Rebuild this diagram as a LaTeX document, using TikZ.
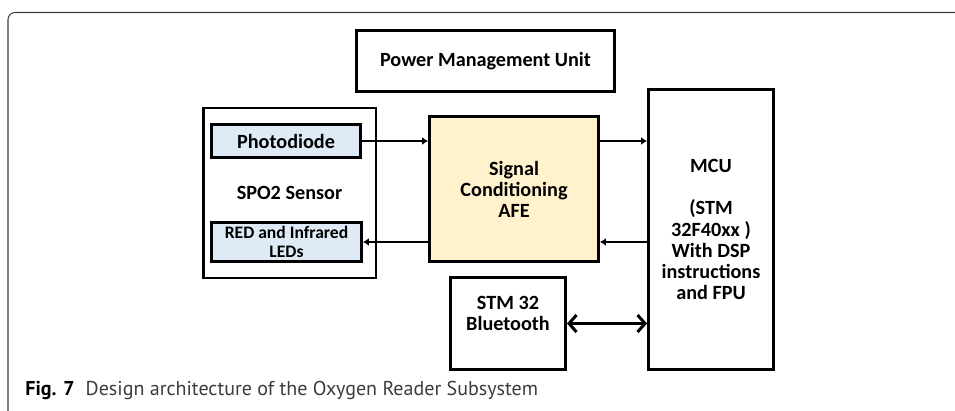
\documentclass[tikz,border=0pt]{standalone}
\usepackage{fontspec}
\setmainfont{Carlito}
\newfontfamily\capfont{PT Sans}
\usetikzlibrary{arrows.meta, positioning}
\definecolor{afeyellow}{HTML}{FFF2CC}
\definecolor{ledblue}{HTML}{DEEBF7}
\definecolor{framegray}{HTML}{3C3C3C}

\begin{document}
\begin{tikzpicture}[
            x=0.02cm, y=-0.02cm,
            block/.style={draw, line width=1.7pt, inner sep=0pt, align=center, font=\fontsize{11.5}{12}\selectfont\bfseries},
            part/.style={block, fill=ledblue},
            link/.style={-{Latex[length=1.2mm,width=1.6mm]}, line width=1.4pt},
            duplex/.style={{Straight Barb[length=1.5mm,width=3.4mm]}-{Straight Barb[length=1.5mm,width=3.4mm]}, line width=1.7pt}
        ]
            \useasboundingbox (0,0) rectangle (955,411);
            \draw[framegray, line width=0.6pt, rounded corners=0.14cm] (8,420) -- (8,12.5) -- (965,12.5);

            \node[block, minimum width=5.16cm, minimum height=1.22cm] (pmu) at (485.5,61) {Power Management Unit};
            \node[block, line width=1.4pt, minimum width=3.45cm, minimum height=3.39cm] (spo) at (289.5,193) {SPO2 Sensor};
            \node[part, minimum width=2.98cm, minimum height=0.66cm] (photo) at (286,141) {Photodiode};
            \node[part, minimum width=3.0cm, minimum height=0.78cm, font=\fontsize{10}{11}\selectfont\bfseries] (leds) at (286.5,242) {RED and Infrared\\LEDs};
            \node[block, fill=afeyellow, minimum width=3.38cm, minimum height=2.9cm] (afe) at (514,189) {Signal\\Conditioning\\AFE};
            \node[block, minimum width=2.5cm, minimum height=5.6cm] (mcu) at (711,229.5) {MCU\\[12pt](STM\\32F40xx )\\With DSP\\instructions\\and FPU};
            \node[block, minimum width=2.3cm, minimum height=1.84cm] (bt) at (508,323.5) {STM 32\\Bluetooth\\\mbox{}};

            \draw[link] (photo.east) -- (afe.west |- photo.east);
            \draw[link] (afe.east |- photo.east) -- (mcu.west |- photo.east);
            \draw[link] (mcu.west |- leds.east) -- (afe.east |- leds.east);
            \draw[link] (afe.west |- leds.east) -- (leds.east);
            \draw[duplex] (bt.east) -- (mcu.west |- bt.east);

            \node[anchor=west, inner sep=0pt, font=\capfont\fontsize{11.4}{13}\selectfont] (caption) at (25,390) {\textbf{Fig. 7}\hspace{0.55em}\textcolor{framegray}{Design architecture of the Oxygen Reader Subsystem}};
        \end{tikzpicture}
\end{document}
